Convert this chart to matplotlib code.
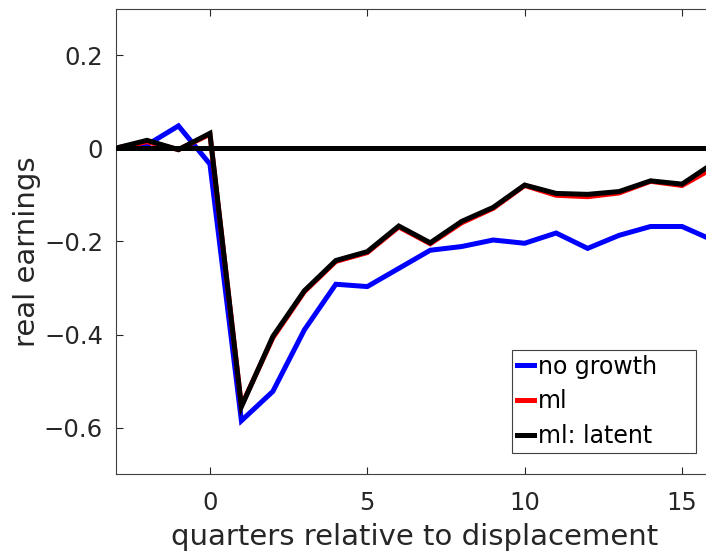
import matplotlib
matplotlib.use("Agg")
import matplotlib.pyplot as plt
import numpy as np

# quarters relative to displacement
quarters = list(range(-3, 17))

# estimated effect on real earnings, by model
no_growth = [0.000, 0.007, 0.048, -0.034, -0.585, -0.522, -0.390, -0.292, -0.297, -0.258,
             -0.219, -0.211, -0.197, -0.204, -0.182, -0.215, -0.187, -0.168, -0.168, -0.198]
ml = [0.000, 0.014, -0.003, 0.030, -0.553, -0.407, -0.308, -0.243, -0.224, -0.169,
      -0.205, -0.160, -0.129, -0.080, -0.101, -0.104, -0.096, -0.071, -0.080, -0.042]
ml_latent = [0.000, 0.017, -0.003, 0.032, -0.555, -0.404, -0.306, -0.241, -0.222, -0.167,
             -0.203, -0.157, -0.127, -0.079, -0.097, -0.099, -0.093, -0.070, -0.077, -0.032]

series_labels = ["no growth", "ml", "ml: latent"]
series_colors = ["#0000ff", "#ff0000", "#000000"]

x_ticks = [0, 5, 10, 15]
y_ticks = [-0.6, -0.4, -0.2, 0, 0.2]
x_limits = (-3, 16)
y_limits = (-0.7, 0.3)

plt.rcParams["font.family"] = ["DejaVu Sans"]
axis_gray = "#262626"

W, H = 706, 555
fig = plt.figure(figsize=(W / 100, H / 100), dpi=100)
left, right, top, bottom = 115.5, 713.5, 8.5, 474.3
ax = fig.add_axes([left / W, (H - bottom) / H, (right - left) / W, (bottom - top) / H])

lw = 3.6
for vals, lab, col in zip([no_growth, ml, ml_latent], series_labels, series_colors):
    ax.plot(quarters, vals, color=col, lw=lw, label=lab, solid_joinstyle="miter")

# reference line at zero
ax.plot(x_limits, [0, 0], color="black", lw=lw, zorder=5)

ax.set_xlim(*x_limits)
ax.set_ylim(*y_limits)
ax.set_xticks(x_ticks)
ax.set_yticks(y_ticks)
ax.set_yticklabels(["\u22120.6", "\u22120.4", "\u22120.2", "0", "0.2"])

ax.tick_params(axis="both", direction="in", length=4.7, width=0.8, color=axis_gray,
               labelcolor=axis_gray, labelsize=17.5, top=True, right=True)
ax.tick_params(axis="x", pad=12)
ax.tick_params(axis="y", pad=9)
for sp in ax.spines.values():
    sp.set_color("#404040")
    sp.set_linewidth(0.8)

ax.set_xlabel("quarters relative to displacement", fontsize=21, color=axis_gray)
ax.xaxis.label.set_va("baseline")
ax.xaxis.set_label_coords(0.5, (bottom - 545) / (bottom - top))
ax.set_ylabel("real earnings", fontsize=21, color=axis_gray)
ax.yaxis.label.set_va("baseline")
ax.yaxis.set_label_coords((35 - left) / (right - left), (bottom - 251.7) / (bottom - top))

lx0 = (512.3 - left) / (right - left)
lx1 = (695.7 - left) / (right - left)
ly0 = (bottom - 452.7) / (bottom - top)
ly1 = (bottom - 349.3) / (bottom - top)
leg = ax.legend(loc="lower left", bbox_to_anchor=(lx0, ly0, lx1 - lx0, ly1 - ly0),
                mode="expand", borderaxespad=0, fontsize=17, handlelength=0.72,
                handletextpad=0.17, borderpad=0.2, labelspacing=0.45,
                fancybox=False, framealpha=1, edgecolor="#404040")
leg.get_frame().set_linewidth(0.8)
for t in leg.get_texts():
    t.set_color("black")

fig.savefig("out.png", dpi=100)
